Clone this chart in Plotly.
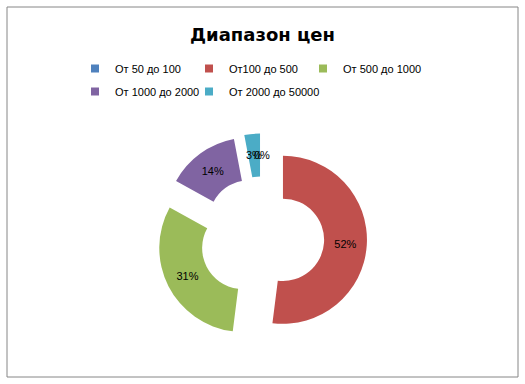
import math
import plotly.graph_objects as go

# ---- data ----
categories = ["От 50 до 100", "От100 до 500", "От 500 до 1000", "От 1000 до 2000", "От 2000 до 50000"]
shares = [0, 52, 31, 14, 3]
colors = ["#4F81BD", "#C0504D", "#9BBB59", "#8064A2", "#4BACC6"]

W, H = 525, 384
ML, MR, MT, MB = 62, 62, 0, 0
PW, PH = W - ML - MR, H - MT - MB

# pie placement in pixels (center, box size)
cx, cy, box = 262, 238.5, 210
PULL, HOLE = 0.25, 0.49
dom_x = [(cx - box / 2 - ML) / PW, (cx + box / 2 - ML) / PW]
dom_y = [(H - cy - box / 2 - MB) / PH, (H - cy + box / 2 - MB) / PH]
R = box / 2 / (1 + PULL)

total = sum(shares)
labels_txt = [f"{round(100 * v / total)}%" for v in shares]
big = [v / total >= 0.1 for v in shares]
inside_text = [t if b else "" for t, b in zip(labels_txt, big)]

fig = go.Figure(go.Pie(
    labels=categories,
    values=shares,
    text=inside_text,
    textinfo="text",
    marker=dict(colors=colors, line=dict(width=0)),
    hole=HOLE,
    pull=[PULL] * len(shares),
    sort=False,
    direction="clockwise",
    rotation=0,
    textposition="inside",
    insidetextorientation="horizontal",
    textfont=dict(family="Liberation Sans", size=11, color="#000000"),
    domain=dict(x=dom_x, y=dom_y),
    hoverinfo="label+percent",
    showlegend=False,
))

# legend entries (two rows, like the original): small square swatches
row_of = [1, 1, 1, 2, 2]
widths = [69, 69, 92, 69, 100]
for name, col, row, lw in zip(categories, colors, row_of, widths):
    fig.add_trace(go.Scatter(
        x=[None], y=[None], mode="markers", name=name,
        marker=dict(symbol="square", size=8, color=col, line=dict(width=0)),
        legend="legend" if row == 1 else "legend2",
        legendwidth=lw, hoverinfo="skip",
    ))

# labels for the thin slices, placed at the ring middle of each slice
annotations = []
cum = 0
for v, t, b in zip(shares, labels_txt, big):
    mid = (cum + v / 2) / total * 2 * math.pi
    cum += v
    if b:
        continue
    rr = R * PULL + R * (1 + HOLE) / 2
    px = cx + rr * math.sin(mid)
    py = cy - rr * math.cos(mid)
    annotations.append(dict(text=t, x=(px - ML) / PW, y=(H - py - MB) / PH,
                            xref="paper", yref="paper", showarrow=False,
                            font=dict(family="Liberation Sans", size=11, color="#000000")))

leg_common = dict(orientation="h", xref="paper", yref="paper",
                  xanchor="left", yanchor="top", entrywidthmode="pixels",
                  font=dict(family="Liberation Sans", size=11, color="#000000"),
                  itemclick=False, itemdoubleclick=False, bgcolor="rgba(0,0,0,0)")
LX = (75 - ML) / PW

fig.update_layout(
    width=W, height=H,
    margin=dict(l=ML, r=MR, t=MT, b=MB),
    paper_bgcolor="white",
    plot_bgcolor="white",
    uniformtext=dict(minsize=11, mode="show"),
    xaxis=dict(visible=False), yaxis=dict(visible=False),
    title=dict(text="<b>Диапазон цен</b>", x=0.5, xref="container", xanchor="center",
               y=1 - 35 / H, yref="container", yanchor="middle",
               font=dict(family="DejaVu Sans", size=18, color="#000000")),
    legend=dict(x=LX, y=(H - 54 - MB) / PH, **leg_common),
    legend2=dict(x=LX, y=(H - 77 - MB) / PH, **leg_common),
    annotations=annotations,
    shapes=[dict(type="rect", xref="paper", yref="paper",
                 x0=(7 - ML) / PW, x1=(518 - ML) / PW,
                 y0=(H - 377 - MB) / PH, y1=(H - 7 - MB) / PH,
                 line=dict(color="#868686", width=1), fillcolor="rgba(0,0,0,0)", layer="below")],
)

fig.write_html("out.html", config={"displayModeBar": False},
               post_script="document.body.style.margin='0';document.body.style.overflow='hidden';")
